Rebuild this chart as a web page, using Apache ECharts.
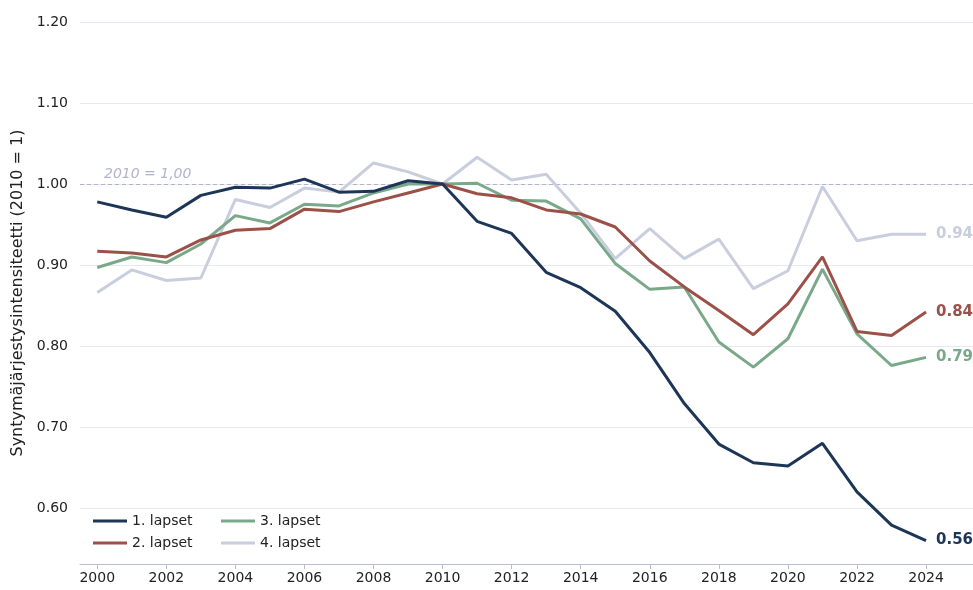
<!DOCTYPE html>
<html>
<head>
<meta charset="utf-8">
<script src="https://cdn.jsdelivr.net/npm/echarts@6/dist/echarts.min.js"></script>
<style>
  html, body { margin: 0; padding: 0; background: #fff; }
  #chart { width: 973px; height: 590px; }
</style>
</head>
<body>
<div id="chart"></div>
<script>
// vuodet ja sarjat
const years = [2000, 2001, 2002, 2003, 2004, 2005, 2006, 2007, 2008, 2009, 2010, 2011, 2012,
  2013, 2014, 2015, 2016, 2017, 2018, 2019, 2020, 2021, 2022, 2023, 2024];

const lapset1 = [0.978, 0.968, 0.959, 0.986, 0.996, 0.995, 1.006, 0.990, 0.991, 1.004, 1.000, 0.954, 0.939,
  0.891, 0.872, 0.843, 0.792, 0.729, 0.679, 0.656, 0.652, 0.680, 0.620, 0.579, 0.560];
const lapset2 = [0.917, 0.915, 0.910, 0.931, 0.943, 0.945, 0.969, 0.966, 0.978, 0.989, 1.000, 0.988, 0.983,
  0.968, 0.963, 0.947, 0.905, 0.873, 0.844, 0.814, 0.852, 0.910, 0.818, 0.813, 0.842];
const lapset3 = [0.897, 0.910, 0.903, 0.926, 0.961, 0.952, 0.975, 0.973, 0.989, 1.000, 1.000, 1.001, 0.980,
  0.979, 0.957, 0.902, 0.870, 0.873, 0.805, 0.774, 0.809, 0.895, 0.815, 0.776, 0.786];
const lapset4 = [0.866, 0.894, 0.881, 0.884, 0.981, 0.971, 0.995, 0.990, 1.026, 1.015, 1.000, 1.033, 1.005,
  1.012, 0.964, 0.908, 0.945, 0.908, 0.932, 0.871, 0.893, 0.997, 0.930, 0.938, 0.938];

const names = ['1. lapset', '2. lapset', '3. lapset', '4. lapset'];
const colors = ['#1d3557', '#9b5148', '#7aa98a', '#c9cedf'];
const yTicks = [0.6, 0.7, 0.8, 0.9, 1.0, 1.1, 1.2];
const xTicks = years.filter(y => y % 2 === 0);
const baseLabel = '2010 = 1,00';

const font = 'DejaVu Sans';
const chart = echarts.init(document.getElementById('chart'), null, { renderer: 'canvas' });

function pairs(vals) {
  return vals.map((v, i) => [years[i], v]);
}

const allSeries = [lapset1, lapset2, lapset3, lapset4].map((vals, i) => ({
  name: names[i],
  type: 'line',
  data: pairs(vals),
  symbol: 'none',
  z: 10 - i,
  lineStyle: { width: 3, color: colors[i] },
  itemStyle: { color: colors[i] },
  endLabel: {
    show: true,
    formatter: p => p.value[1].toFixed(2),
    color: colors[i],
    fontFamily: font,
    fontWeight: 'bold',
    fontSize: 15,
    distance: 10
  }
}));

// apusarja: vaakaviivat ja 2010-viiva
allSeries.push({
  type: 'line',
  data: [],
  silent: true,
  markLine: {
    symbol: 'none',
    silent: true,
    animation: false,
    data: yTicks.map(t => ({
      yAxis: t,
      lineStyle: { color: '#e7e9f1', width: 1.2, type: 'solid' },
      label: { show: false }
    })).concat([{
      yAxis: 1.0,
      lineStyle: { color: '#b0b4ca', width: 1.2, type: [4, 3] },
      label: {
        show: true,
        position: 'insideStartTop',
        formatter: baseLabel,
        color: '#b0b4ca',
        fontStyle: 'italic',
        fontFamily: font,
        fontSize: 14,
        distance: [24, 3]
      }
    }])
  },
  z: 1
});

const legendBase = {
  orient: 'vertical',
  top: 509,
  itemWidth: 34,
  itemHeight: 3,
  itemGap: 8,
  icon: 'rect',
  textStyle: { fontFamily: font, fontSize: 14, color: '#222' }
};

const option = {
  backgroundColor: '#ffffff',
  animation: false,
  grid: { left: 80, right: 0, top: 22, bottom: 26 },
  legend: [
    Object.assign({ data: names.slice(0, 2), left: 88 }, legendBase),
    Object.assign({ data: names.slice(2, 4), left: 216 }, legendBase)
  ],
  xAxis: {
    type: 'value',
    min: 1999.5,
    max: 2025.36,
    interval: 2,
    splitLine: { show: false },
    axisLine: { show: true, lineStyle: { color: '#b7bdd3', width: 1.2 } },
    axisTick: { show: true, length: 5, lineStyle: { color: '#b7bdd3' }, customValues: xTicks },
    axisLabel: {
      fontFamily: font, fontSize: 14, color: '#222', margin: 7,
      customValues: xTicks,
      formatter: v => String(v)
    }
  },
  yAxis: {
    type: 'value',
    min: 0.531,
    max: 1.2,
    name: 'Syntymäjärjestysintensiteetti (2010 = 1)',
    nameLocation: 'middle',
    nameGap: 50,
    nameTextStyle: { fontFamily: font, fontSize: 16, color: '#222' },
    splitLine: { show: false },
    axisLine: { show: false },
    axisTick: { show: false },
    axisLabel: {
      fontFamily: font, fontSize: 14, color: '#222', margin: 12,
      customValues: yTicks,
      formatter: v => v.toFixed(2)
    }
  },
  series: allSeries
};

chart.setOption(option);
</script>
</body>
</html>
